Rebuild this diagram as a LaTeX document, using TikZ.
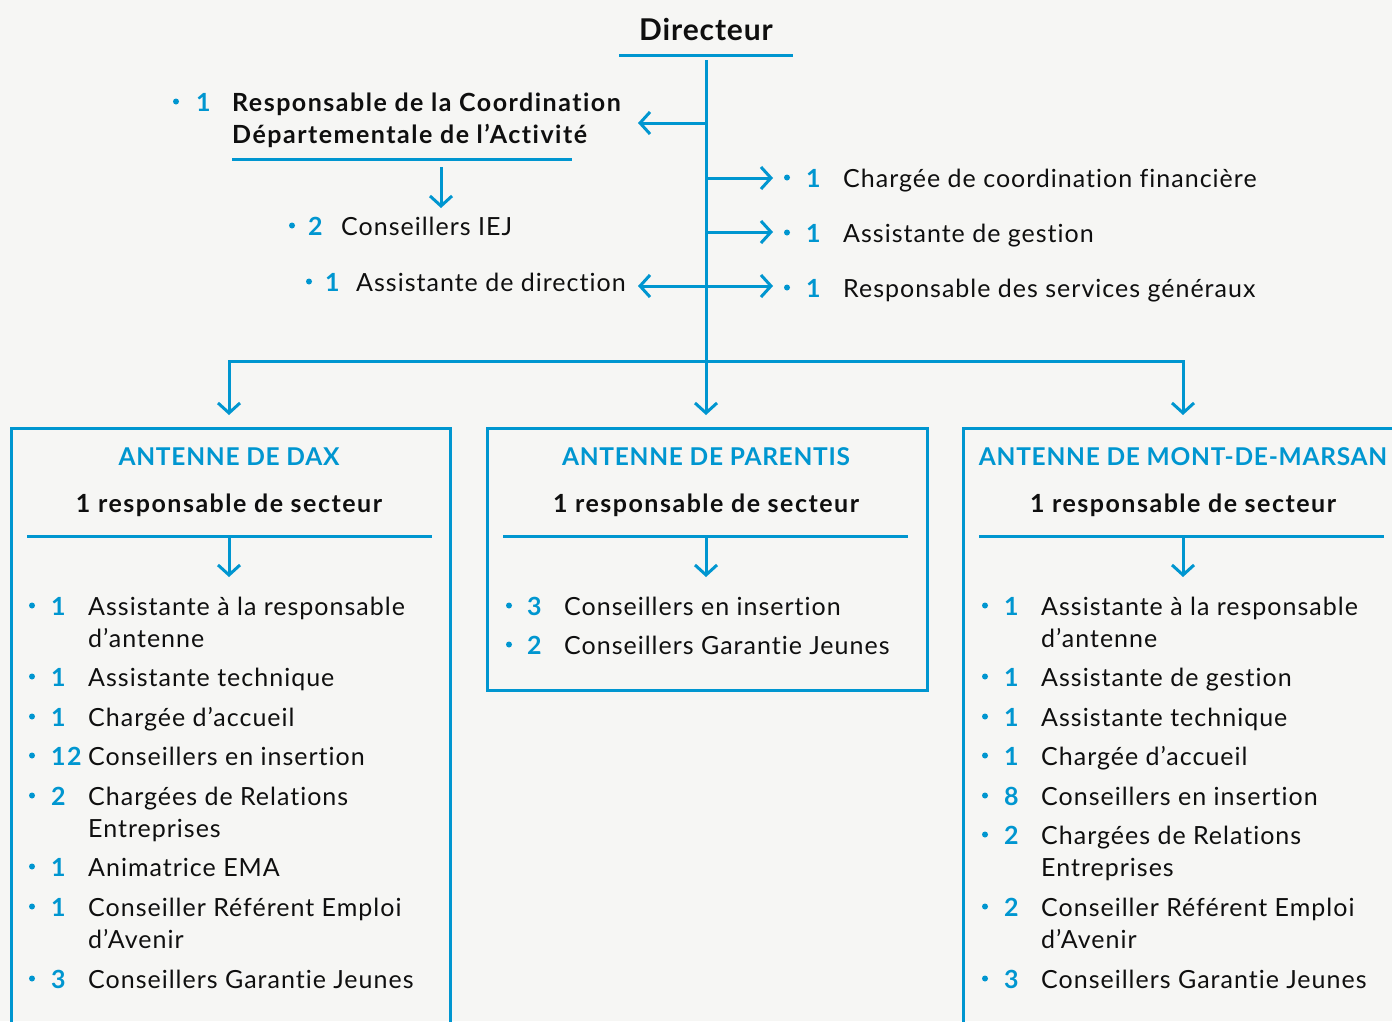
\documentclass[tikz,border=0pt]{standalone}
\usepackage{fontspec}
\setmainfont{Lato}[LetterSpace=4, Ligatures={NoCommon,NoRequired,NoContextual}, BoldFeatures={LetterSpace=6}]
\newfontfamily\titlefont{Lato}[LetterSpace=3, Ligatures={NoCommon,NoRequired,NoContextual}]
\usetikzlibrary{arrows.meta}
\definecolor{cblue}{RGB}{0,150,208}
\definecolor{cbg}{RGB}{246,246,244}
\definecolor{ctext}{RGB}{15,15,15}
\tikzset{
  conn/.style={cblue, line width=3pt},
  arr/.style={conn, -{Straight Barb[length=10pt,width=22pt,line width=3pt]}},
  txt/.style={anchor=base west, inner sep=0pt, text=ctext, font=\fontsize{25}{30}\selectfont},
  btxt/.style={txt, font=\fontsize{25}{30}\selectfont\bfseries},
  num/.style={txt, text=cblue, font=\fontsize{25}{30}\selectfont\bfseries},
  title/.style={anchor=base, inner sep=0pt, text=cblue, font=\titlefont\fontsize{24.5}{30}\selectfont\bfseries},
  sub/.style={anchor=base, inner sep=0pt, text=ctext, font=\fontsize{25}{30}\selectfont\bfseries},
  dot/.style={circle, fill=cblue, inner sep=0pt, minimum size=6pt},
  box/.style={draw=cblue, line width=3pt, anchor=north west, inner sep=0pt}
}
% name, bullet x, number x, text x, baseline y, number, text
\newcommand\itm[7]{%
  \node[dot] (#1d) at (#2,#5-9.5) {};
  \node[num] (#1n) at (#3,#5) {#6};
  \node[txt] (#1t) at (#4,#5) {#7};}
\newcommand\cont[4]{\node[txt] (#1) at (#2,#3) {#4};}
\begin{document}
\begin{tikzpicture}[x=1pt,y=-1pt]
\fill[cbg] (0,0) rectangle (1392,1021);
\useasboundingbox (0,0) rectangle (1392,1021);
\clip (0,0) rectangle (1392,1021);

% Directeur
\node[anchor=base, inner sep=0pt, text=ctext, font=\titlefont\fontsize{30}{36}\selectfont\bfseries] (dir) at (706,40) {Directeur};
\draw[conn] (619,55.5) -- (793,55.5);
\coordinate (vtop) at (706,60);
\coordinate (vjoin) at (706,361);
\coordinate (parTop) at (706,415);

% left: Responsable
\node[dot] (rcd) at (176,101.5) {};
\node[num] (rcn) at (196,111) {1};
\node[btxt] (rct1) at (232,111) {Responsable de la Coordination};
\node[btxt] (rct2) at (232,143) {Départementale de l’Activité};
\draw[conn] (232,159.5) -- (572,159.5);
\coordinate (rcArr) at (638,123);
\coordinate (rcJ) at (706,123);
\draw[arr] (rcJ) -- (rcArr);
\coordinate (iejS) at (441,167);
\coordinate (iejE) at (441,208);
\draw[arr] (iejS) -- (iejE);
\itm{iej}{292}{308}{341}{235}{2}{Conseillers IEJ}
\itm{adir}{309}{325}{356}{291}{1}{Assistante de direction}
\coordinate (adJ) at (706,286);
\coordinate (adArr) at (638,286);
\draw[arr] (adJ) -- (adArr);

% right items
\foreach \yy/\nm in {178/cf,232/ag,286/rsg}{
  \coordinate (\nm J) at (706,\yy);
  \coordinate (\nm A) at (773,\yy);
  \draw[arr] (\nm J) -- (\nm A);
}
\itm{cf}{787}{806}{843}{187}{1}{Chargée de coordination financière}
\itm{ag}{787}{806}{843}{242}{1}{Assistante de gestion}
\itm{rsg}{787}{806}{843}{297}{1}{Responsable des services généraux}

% main vertical
\draw[arr] (vtop) -- (parTop);
\coordinate (daxTop) at (229,415);
\coordinate (mdmTop) at (1183,415);
\draw[arr] (vjoin) -| (daxTop);
\draw[arr] (vjoin) -| (mdmTop);

% boxes
\node[box, minimum width=439pt, minimum height=640pt] (dax) at (10,427) {};
\node[box, minimum width=440pt, minimum height=262pt] (par) at (486,427) {};
\node[box, minimum width=440pt, minimum height=640pt] (mdm) at (962,427) {};

\foreach \cx/\lx/\nm in {229/27/daxs, 706/503/pars, 1183/979/mdms}{
  \draw[conn] (\lx,536) -- (\lx+405,536);
  \coordinate (\nm S) at (\cx,536);
  \coordinate (\nm E) at (\cx,577);
  \draw[arr] (\nm S) -- (\nm E);
}
\node[title] (daxT) at (229,465) {ANTENNE DE DAX};
\node[title] (parT) at (706,465) {ANTENNE DE PARENTIS};
\node[title] (mdmT) at (1183,465) {ANTENNE DE MONT-DE-MARSAN};
\node[sub] (daxR) at (229,512) {1 responsable de secteur};
\node[sub] (parR) at (706,512) {1 responsable de secteur};
\node[sub] (mdmR) at (1183,512) {1 responsable de secteur};

% Dax list
\itm{d1}{32}{51}{88}{615}{1}{Assistante à la responsable}
\cont{d1b}{88}{647}{d’antenne}
\itm{d2}{32}{51}{88}{686}{1}{Assistante technique}
\itm{d3}{32}{51}{88}{726}{1}{Chargée d’accueil}
\itm{d4}{32}{51}{88}{765}{12}{Conseillers en insertion}
\itm{d5}{32}{51}{88}{805}{2}{Chargées de Relations}
\cont{d5b}{88}{837}{Entreprises}
\itm{d6}{32}{51}{88}{876}{1}{Animatrice EMA}
\itm{d7}{32}{51}{88}{916}{1}{Conseiller Référent Emploi}
\cont{d7b}{88}{948}{d’Avenir}
\itm{d8}{32}{51}{88}{988}{3}{Conseillers Garantie Jeunes}

% Parentis list
\itm{p1}{509}{527}{564}{615}{3}{Conseillers en insertion}
\itm{p2}{509}{527}{564}{654}{2}{Conseillers Garantie Jeunes}

% Mont-de-Marsan list
\itm{m1}{985}{1004}{1041}{615}{1}{Assistante à la responsable}
\cont{m1b}{1041}{647}{d’antenne}
\itm{m2}{985}{1004}{1041}{686}{1}{Assistante de gestion}
\itm{m3}{985}{1004}{1041}{726}{1}{Assistante technique}
\itm{m4}{985}{1004}{1041}{765}{1}{Chargée d’accueil}
\itm{m5}{985}{1004}{1041}{805}{8}{Conseillers en insertion}
\itm{m6}{985}{1004}{1041}{844}{2}{Chargées de Relations}
\cont{m6b}{1041}{876}{Entreprises}
\itm{m7}{985}{1004}{1041}{916}{2}{Conseiller Référent Emploi}
\cont{m7b}{1041}{948}{d’Avenir}
\itm{m8}{985}{1004}{1041}{988}{3}{Conseillers Garantie Jeunes}
\end{tikzpicture}
\end{document}
